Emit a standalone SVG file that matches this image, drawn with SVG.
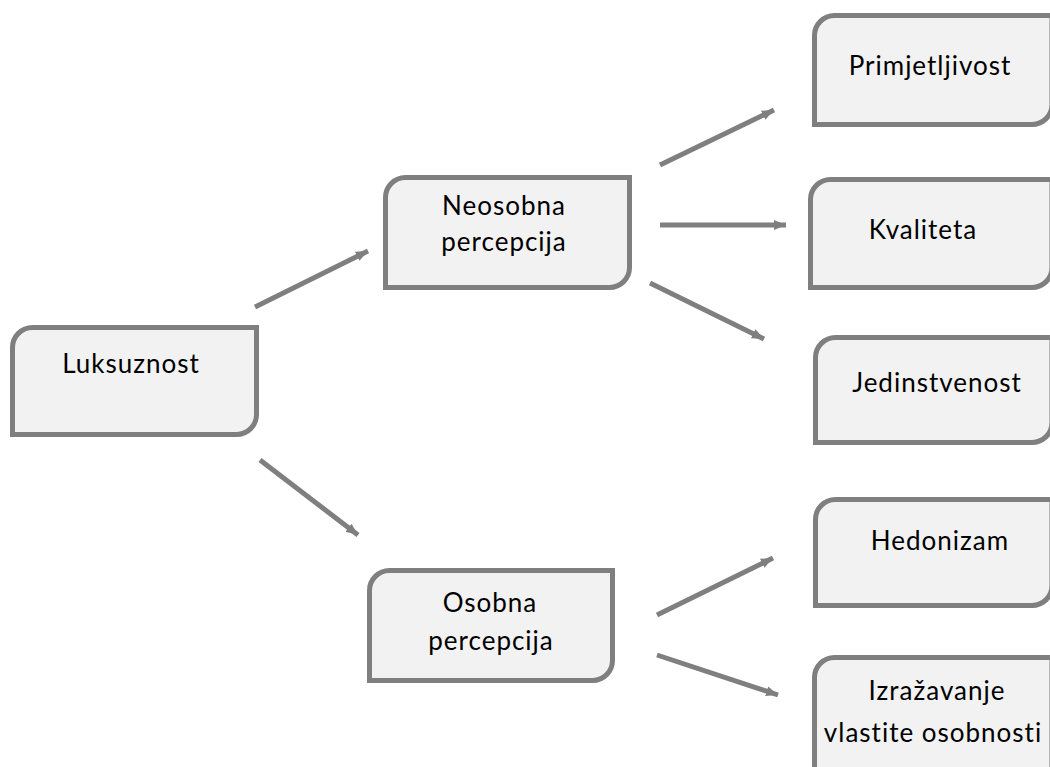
<svg xmlns="http://www.w3.org/2000/svg" width="1050" height="767" viewBox="0 0 1050 767">
<defs>
<style>
.box{fill:#f2f2f2;stroke:#7f7f7f;stroke-width:5}
.lbl{font-family:Lato,"Open Sans","Liberation Sans",sans-serif;font-size:26px;letter-spacing:1px;fill:#000;text-anchor:middle}
.conn{stroke:#7f7f7f;stroke-width:5;fill:none;marker-end:url(#ah)}
</style>
<marker id="ah" markerUnits="userSpaceOnUse" markerWidth="14" markerHeight="12" refX="12" refY="6" orient="auto">
<path d="M0,1 L12,6 L0,11 z" fill="#7f7f7f"/>
</marker>
</defs>
<rect width="1050" height="767" fill="#fff"/>
<g id="connectors">
<line class="conn" x1="255" y1="307" x2="368" y2="251"/>
<line class="conn" x1="260" y1="460" x2="358" y2="535"/>
<line class="conn" x1="660" y1="165" x2="774" y2="110"/>
<line class="conn" x1="660" y1="225" x2="786" y2="225"/>
<line class="conn" x1="650" y1="283" x2="764" y2="339"/>
<line class="conn" x1="657" y1="615" x2="773" y2="558"/>
<line class="conn" x1="657" y1="655" x2="778" y2="695"/>
</g>
<g id="luksuznost">
<path class="box" d="M12.5,347.5 A20,20 0 0 1 32.5,327.5 H256.5 V414.5 A20,20 0 0 1 236.5,434.5 H12.5 Z"/>
<text class="lbl" x="131" y="373">Luksuznost</text>
</g>
<g id="neosobna">
<path class="box" d="M385.5,197.5 A20,20 0 0 1 405.5,177.5 H629.5 V267.5 A20,20 0 0 1 609.5,287.5 H385.5 Z"/>
<text class="lbl" x="504" y="215">Neosobna</text>
<text class="lbl" x="504" y="251">percepcija</text>
</g>
<g id="osobna">
<path class="box" d="M369.5,590.5 A20,20 0 0 1 389.5,570.5 H612.5 V660.5 A20,20 0 0 1 592.5,680.5 H369.5 Z"/>
<text class="lbl" x="490" y="612">Osobna</text>
<text class="lbl" x="491" y="650">percepcija</text>
</g>
<g id="primjetljivost">
<path class="box" d="M814.5,35.5 A20,20 0 0 1 834.5,15.5 H1052 V104.5 A20,20 0 0 1 1032,124.5 H814.5 Z"/>
<text class="lbl" x="930" y="75">Primjetljivost</text>
</g>
<g id="kvaliteta">
<path class="box" d="M810.5,199.5 A20,20 0 0 1 830.5,179.5 H1052 V267.5 A20,20 0 0 1 1032,287.5 H810.5 Z"/>
<text class="lbl" x="923" y="239">Kvaliteta</text>
</g>
<g id="jedinstvenost">
<path class="box" d="M815.5,357.5 A20,20 0 0 1 835.5,337.5 H1052 V422.5 A20,20 0 0 1 1032,442.5 H815.5 Z"/>
<text class="lbl" x="937" y="392">Jedinstvenost</text>
</g>
<g id="hedonizam">
<path class="box" d="M815.5,519.5 A20,20 0 0 1 835.5,499.5 H1052 V585.5 A20,20 0 0 1 1032,605.5 H815.5 Z"/>
<text class="lbl" x="940" y="550">Hedonizam</text>
</g>
<g id="izrazavanje">
<path class="box" d="M814.5,677.5 A20,20 0 0 1 834.5,657.5 H1052 V780 H814.5 Z"/>
<text class="lbl" x="937" y="700">Izražavanje</text>
<text class="lbl" x="933" y="742">vlastite osobnosti</text>
</g>
</svg>
